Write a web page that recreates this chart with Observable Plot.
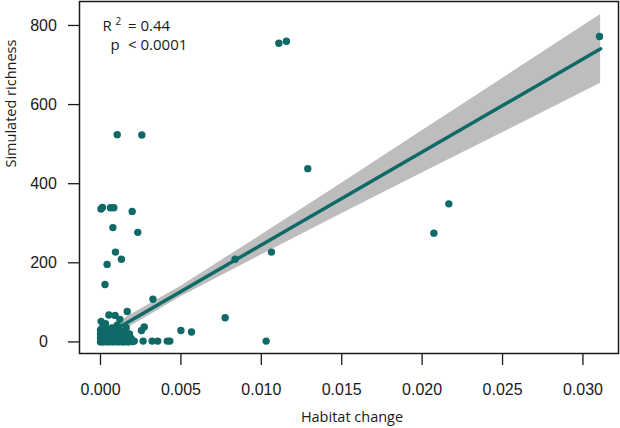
<!DOCTYPE html>
<html><head><meta charset="utf-8">
<script src="https://cdn.jsdelivr.net/npm/d3@7"></script>
<script src="https://cdn.jsdelivr.net/npm/@observablehq/plot@0.6"></script>
<style>
html,body{margin:0;padding:0;background:#fff}
#chart svg{display:block}
</style>
</head><body><div id="chart"></div>
<script>
// Observed points (x = habitat change, y = simulated richness)
const habitatChange = [
  0.01109, 0.01156, 0.00104, 0.00257, 0.01289, 0.03103, 0.02166, 0.02073,
  0.00003, 0.00012, 0.00062, 0.00083, 0.00197, 0.00077, 0.00232, 0.00093,
  0.00130, 0.00041, 0.00028, 0.01063, 0.00837, 0.00326, 0.00775, 0.00500,
  0.00566, 0.01030, 0.00265, 0.00321, 0.00356, 0.00415, 0.00431, 0.00255,
  0.00272, 0.00166, 0.00052, 0.00091, 0.00120, 0.00004, 0.00031, 0.00104,
  0.00160,
  // dense cluster near the origin
  0.0000, 0.0001, 0.0002, 0.0003, 0.0004, 0.0005, 0.0006, 0.0007, 0.0008, 0.0009, 0.0010,
  0.0011, 0.0012, 0.0013, 0.0014, 0.0015, 0.0016, 0.0017, 0.0018, 0.0019, 0.0020, 0.0021,
  0.0000, 0.00015, 0.0003, 0.00045, 0.0006, 0.00075, 0.0009, 0.00105, 0.0012, 0.00135, 0.0015, 0.0017, 0.0019,
  0.0000, 0.0002, 0.0004, 0.0006, 0.0008, 0.0010, 0.0012, 0.0014, 0.0016, 0.0018,
  0.0000, 0.00012, 0.0003, 0.0005, 0.0007, 0.0009, 0.0011, 0.0014
];
const simulatedRichness = [
  755, 760, 524, 523, 438, 772, 349, 275,
  336, 340, 339, 339, 330, 289, 277, 227,
  209, 196, 145, 227, 209, 108, 61, 29,
  25, 2, 2, 2, 2, 2, 2, 29,
  38, 77, 68, 67, 57, 52, 46, 42,
  36,
  0, 1, 0, 2, 1, 0, 3, 1, 0, 2, 1,
  0, 2, 1, 0, 1, 2, 0, 1, 3, 1, 2,
  10, 8, 12, 9, 14, 7, 11, 9, 13, 8, 10, 12, 9,
  20, 22, 18, 24, 19, 21, 17, 23, 18, 20,
  30, 36, 33, 28, 35, 31, 29, 26
];

// Fitted regression line and its confidence band
const fitX    = [0, 0.005, 0.010, 0.015, 0.020, 0.025, 0.0311];
const fitY    = [10, 127.5, 245, 362.5, 480, 597.5, 741];
const ciLow   = [-5, 114, 220, 324, 427, 529, 654];
const ciHigh  = [25, 141, 270, 401, 534, 666, 828];

const xTicks = [0, 0.005, 0.010, 0.015, 0.020, 0.025, 0.030];
const yTicks = [0, 200, 400, 600, 800];

const xTitle = "Habitat change";
const yTitle = "Simulated richness";

const points = habitatChange.map((x, i) => ({x, y: simulatedRichness[i]}));
const fit = fitX.map((x, i) => ({x, y: fitY[i], lo: ciLow[i], hi: ciHigh[i]}));

const teal = "#0f6a67";
const tickFont = "Liberation Sans, Arial, sans-serif";
const textFont = "Open Sans, Noto Sans, sans-serif";

const chart = Plot.plot({
  width: 620,
  height: 428,
  marginLeft: 79,
  marginRight: 2,
  marginTop: 1,
  marginBottom: 75,
  style: {background: "#fff", overflow: "visible"},
  x: {domain: [-0.001306, 0.03221], label: null},
  y: {domain: [-29.3, 860.6], label: null},
  marks: [
    Plot.areaY(fit, {x: "x", y1: "lo", y2: "hi", fill: "#bdbdbd"}),
    Plot.line(fit, {x: "x", y: "y", stroke: teal, strokeWidth: 3.5}),
    Plot.dot(points, {x: "x", y: "y", r: 3.7, fill: teal, stroke: null}),
    Plot.frame({stroke: "#1a1a1a", strokeWidth: 1.5}),
    Plot.axisX(xTicks, {tickSize: 12, tickPadding: 18, fontSize: 16, fontFamily: tickFont,
      tickFormat: d3.format(".3f"), stroke: "#1a1a1a", strokeWidth: 1.3, fill: "#1a1a1a", label: null}),
    Plot.axisY(yTicks, {tickSize: 11, tickPadding: 25, textAnchor: "middle", fontSize: 16, fontFamily: tickFont,
      stroke: "#1a1a1a", strokeWidth: 1.3, fill: "#1a1a1a", label: null}),
    Plot.text([xTitle], {frameAnchor: "bottom", lineAnchor: "top", dx: 3, dy: 58.4,
      fontSize: 14.5, fontFamily: textFont, fill: "#1a1a1a"}),
    Plot.text([yTitle], {frameAnchor: "left", rotate: -90, lineAnchor: "middle", dx: -68, dy: -10,
      fontSize: 14.5, fontFamily: textFont, fill: "#1a1a1a"}),
    Plot.text(["R"], {frameAnchor: "top-left", textAnchor: "start", lineAnchor: "middle", dx: 23, dy: 24.2,
      fontSize: 15, fontFamily: textFont, fill: "#1a1a1a"}),
    Plot.text(["2"], {frameAnchor: "top-left", textAnchor: "start", lineAnchor: "middle", dx: 36, dy: 20.3,
      fontSize: 10, fontFamily: textFont, fill: "#1a1a1a"}),
    Plot.text(["= 0.44"], {frameAnchor: "top-left", textAnchor: "start", lineAnchor: "middle", dx: 48.5, dy: 24.2,
      fontSize: 15, fontFamily: textFont, fill: "#1a1a1a"}),
    Plot.text(["p"], {frameAnchor: "top-left", textAnchor: "start", lineAnchor: "middle", dx: 31, dy: 43.2,
      fontSize: 15, fontFamily: textFont, fill: "#1a1a1a"}),
    Plot.text(["< 0.0001"], {frameAnchor: "top-left", textAnchor: "start", lineAnchor: "middle", dx: 48.5, dy: 43.2,
      fontSize: 15, fontFamily: textFont, fill: "#1a1a1a"})
  ]
});
document.getElementById("chart").append(chart);
</script>
</body></html>
